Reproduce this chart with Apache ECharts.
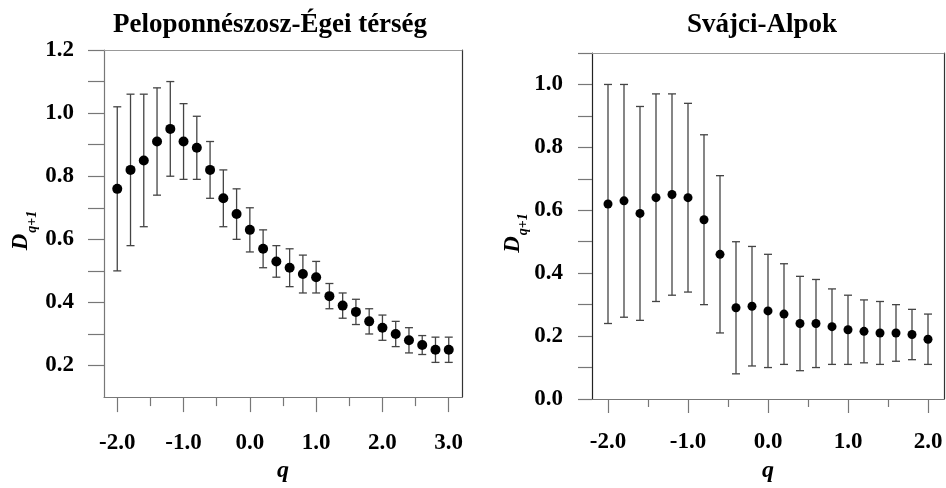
<!DOCTYPE html>
<html>
<head>
<meta charset="utf-8">
<script src="https://cdn.jsdelivr.net/npm/echarts@6/dist/echarts.min.js"></script>
<style>html,body{margin:0;padding:0;background:#fff}#c{width:946px;height:488px}</style>
</head>
<body>
<div id="c"></div>
<script>
// ---- Data ----
const titleL = 'Peloponnészosz-Égei térség';
const titleR = 'Svájci-Alpok';

const qL    = [-2.0,-1.8,-1.6,-1.4,-1.2,-1.0,-0.8,-0.6,-0.4,-0.2,0.0,0.2,0.4,0.6,0.8,1.0,1.2,1.4,1.6,1.8,2.0,2.2,2.4,2.6,2.8,3.0];
const valL  = [0.76,0.82,0.85,0.91,0.95,0.91,0.89,0.82,0.73,0.68,0.63,0.57,0.53,0.51,0.49,0.48,0.42,0.39,0.37,0.34,0.32,0.30,0.28,0.265,0.25,0.25];
const lowL  = [0.50,0.58,0.64,0.74,0.80,0.79,0.79,0.73,0.64,0.60,0.56,0.51,0.48,0.45,0.43,0.43,0.38,0.35,0.33,0.30,0.28,0.26,0.24,0.235,0.21,0.21];
const highL = [1.02,1.06,1.06,1.08,1.10,1.03,0.99,0.91,0.82,0.76,0.70,0.63,0.58,0.57,0.55,0.53,0.46,0.43,0.41,0.38,0.36,0.34,0.32,0.295,0.29,0.29];

const qR    = [-2.0,-1.8,-1.6,-1.4,-1.2,-1.0,-0.8,-0.6,-0.4,-0.2,0.0,0.2,0.4,0.6,0.8,1.0,1.2,1.4,1.6,1.8,2.0];
const valR  = [0.62,0.63,0.59,0.64,0.65,0.64,0.57,0.46,0.29,0.295,0.28,0.27,0.24,0.24,0.23,0.22,0.215,0.21,0.21,0.205,0.19];
const lowR  = [0.24,0.26,0.25,0.31,0.33,0.34,0.30,0.21,0.08,0.105,0.10,0.11,0.09,0.10,0.11,0.11,0.115,0.11,0.12,0.125,0.11];
const highR = [1.00,1.00,0.93,0.97,0.97,0.94,0.84,0.71,0.50,0.485,0.46,0.43,0.39,0.38,0.35,0.33,0.315,0.31,0.30,0.285,0.27];

// tick positions / labels
const xMajorL = [-2,-1,0,1,2,3];
const xMinorL = [-1.5,-0.5,0.5,1.5,2.5];
const yTickL  = [0.2,0.3,0.4,0.5,0.6,0.7,0.8,0.9,1.0,1.1,1.2];
const yLabL   = [0.2,0.4,0.6,0.8,1.0,1.2];
const xMajorR = [-2,-1,0,1,2];
const xMinorR = [-1.5,-0.5,0.5,1.5];
const yTickR  = [0.0,0.1,0.2,0.3,0.4,0.5,0.6,0.7,0.8,0.9,1.0,1.1];
const yLabR   = [0.0,0.2,0.4,0.6,0.8,1.0];

// ---- Chart ----
const serif = "'Liberation Serif','Times New Roman',serif";
const labStyle = {fontFamily: serif, fontWeight: 'bold', fontSize: 23, color: '#000'};
const fmt = v => Number(v).toFixed(1);
const gray = '#777';

function errBar(stroke) {
  return function (params, api) {
    const x = api.value(0), lo = api.value(1), hi = api.value(2);
    const a = api.coord([x, lo]), b = api.coord([x, hi]);
    const hw = 4;
    const st = {stroke: stroke, lineWidth: 1.3};
    return {type: 'group', children: [
      {type: 'line', shape: {x1: a[0], y1: a[1], x2: b[0], y2: b[1]}, style: st},
      {type: 'line', shape: {x1: a[0]-hw, y1: a[1], x2: a[0]+hw, y2: a[1]}, style: st},
      {type: 'line', shape: {x1: b[0]-hw, y1: b[1], x2: b[0]+hw, y2: b[1]}, style: st}
    ]};
  };
}

const yName = {
  name: '{d|D}{s|q+1}',
  nameLocation: 'middle',
  nameRotate: 90,
  nameTextStyle: {
    padding: [0, 14, 0, 0],
    rich: {
      d: {fontFamily: serif, fontStyle: 'italic', fontWeight: 'bold', fontSize: 23, lineHeight: 23, verticalAlign: 'top', color: '#000'},
      s: {fontFamily: serif, fontStyle: 'italic', fontWeight: 'bold', fontSize: 14, lineHeight: 14, padding: [15,0,0,1], verticalAlign: 'top', color: '#000'}
    }
  }
};
const qName = {fontFamily: serif, fontStyle: 'italic', fontWeight: 'bold', fontSize: 24, color: '#000'};

function xAxes(gi, min, max, major, minor, majLen, minLen, lineColor, margin, gap) {
  return [
    {gridIndex: gi, type: 'value', min: min, max: max, position: 'bottom',
     axisLine: {show: true, onZero: false, lineStyle: {color: lineColor, width: 1.2}},
     axisTick: {show: true, customValues: major, length: majLen, lineStyle: {color: gray, width: 1.2}},
     axisLabel: {customValues: major, formatter: fmt, margin: margin, ...labStyle},
     splitLine: {show: false},
     name: 'q', nameLocation: 'middle', nameGap: gap, nameTextStyle: qName},
    {gridIndex: gi, type: 'value', min: min, max: max, position: 'bottom',
     axisLine: {show: false, onZero: false},
     axisTick: {show: true, customValues: minor, length: minLen, lineStyle: {color: gray, width: 1.2}},
     axisLabel: {show: false}, splitLine: {show: false}},
    {gridIndex: gi, type: 'value', min: min, max: max, position: 'top',
     axisLine: {show: true, onZero: false, lineStyle: {color: '#999', width: 1.2}},
     axisTick: {show: false}, axisLabel: {show: false}, splitLine: {show: false}}
  ];
}
function yAxes(gi, min, max, ticks, labs, len, lineColor, margin, gap) {
  return [
    {gridIndex: gi, type: 'value', min: min, max: max, position: 'left',
     axisLine: {show: true, onZero: false, lineStyle: {color: lineColor, width: 1.2}},
     axisTick: {show: true, customValues: ticks, length: len, lineStyle: {color: gray, width: 1.2}},
     axisLabel: {customValues: labs, formatter: fmt, margin: margin, ...labStyle},
     splitLine: {show: false},
     ...yName, nameGap: gap},
    {gridIndex: gi, type: 'value', min: min, max: max, position: 'right',
     axisLine: {show: true, onZero: false, lineStyle: {color: '#333', width: 1.2}},
     axisTick: {show: false}, axisLabel: {show: false}, splitLine: {show: false}}
  ];
}

const option = {
  animation: false,
  backgroundColor: '#fff',
  title: [
    {text: titleL, left: 265, top: 7, textAlign: 'center', textStyle: {fontFamily: serif, fontWeight: 'bold', fontSize: 27, color: '#000'}},
    {text: titleR, left: 757, top: 7, textAlign: 'center', textStyle: {fontFamily: serif, fontWeight: 'bold', fontSize: 27, color: '#000'}}
  ],
  grid: [
    {left: 104, top: 50, width: 358, height: 358},
    {left: 592, top: 53, width: 352, height: 352}
  ],
  xAxis: [
    ...xAxes(0, -2.2, 3.2, xMajorL, xMinorL, 15, 9, gray, 34, 55),
    ...xAxes(1, -2.2, 2.2, xMajorR, xMinorR, 14, 8, gray, 32, 60)
  ],
  yAxis: [
    ...yAxes(0, 0.1, 1.2, yTickL, yLabL, 16, gray, 30, 71),
    ...yAxes(1, 0.0, 1.1, yTickR, yLabR, 14, '#222', 29, 64)
  ],
  series: [
    {type: 'custom', xAxisIndex: 0, yAxisIndex: 0, renderItem: errBar('#444'),
     encode: {x: 0, y: [1, 2]}, data: qL.map((q, i) => [q, lowL[i], highL[i]]), z: 2},
    {type: 'scatter', xAxisIndex: 0, yAxisIndex: 0, symbol: 'circle', symbolSize: 10,
     itemStyle: {color: '#000', opacity: 1}, data: qL.map((q, i) => [q, valL[i]]), z: 3},
    {type: 'custom', xAxisIndex: 3, yAxisIndex: 2, renderItem: errBar('#444'),
     encode: {x: 0, y: [1, 2]}, data: qR.map((q, i) => [q, lowR[i], highR[i]]), z: 2},
    {type: 'scatter', xAxisIndex: 3, yAxisIndex: 2, symbol: 'circle', symbolSize: 9,
     itemStyle: {color: '#000', opacity: 1}, data: qR.map((q, i) => [q, valR[i]]), z: 3}
  ]
};

const chart = echarts.init(document.getElementById('c'), null, {renderer: 'canvas'});
chart.setOption(option);
</script>
</body>
</html>
